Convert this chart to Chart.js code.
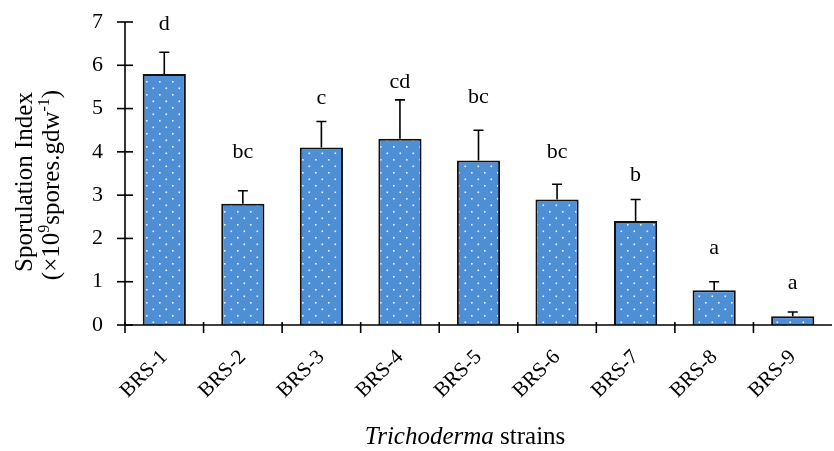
<!DOCTYPE html>
<html><head><meta charset="utf-8">
<script src="https://cdn.jsdelivr.net/npm/chart.js@4/dist/chart.umd.min.js"></script>
<style>html,body{margin:0;padding:0;background:#fff}#wrap{width:834px;height:451px;position:relative}</style>
</head><body><div id="wrap"><canvas id="c" width="834" height="451"></canvas></div>
<script>
const categories = ["BRS-1","BRS-2","BRS-3","BRS-4","BRS-5","BRS-6","BRS-7","BRS-8","BRS-9"];
const sporulation = [5.8, 2.8, 4.1, 4.3, 3.8, 2.9, 2.4, 0.8, 0.2];
const errors = [0.5, 0.3, 0.6, 0.9, 0.7, 0.35, 0.5, 0.2, 0.1];
const letters = ["d","bc","c","cd","bc","bc","b","a","a"];
const letterHeights = [6.95, 4.0, 5.25, 5.6, 5.27, 4.0, 3.45, 1.78, 0.97];
const yTicks = [0,1,2,3,4,5,6,7];

const SERIF = "'Liberation Serif','Times New Roman',serif";

function makePattern(){
  const p = document.createElement('canvas');
  p.width = 13; p.height = 13;
  const g = p.getContext('2d');
  g.fillStyle = '#4E8ED5';
  g.fillRect(0,0,13,13);
  g.fillStyle = 'rgba(255,255,255,0.9)';
  g.fillRect(3,3,1.6,1.6);
  g.fillRect(9.5,9.5,1.6,1.6);
  return g.createPattern(p,'repeat');
}

const decor = {
  id:'decor',
  afterDatasetsDraw(chart){
    const ctx = chart.ctx, x = chart.scales.x, y = chart.scales.y, ca = chart.chartArea;
    ctx.save();
    ctx.strokeStyle = '#000'; ctx.lineWidth = 1.6; ctx.fillStyle = '#000';
    sporulation.forEach((v,i)=>{
      const px = x.getPixelForValue(i);
      const y0 = y.getPixelForValue(v), y1 = y.getPixelForValue(v+errors[i]);
      ctx.beginPath(); ctx.moveTo(px,y0); ctx.lineTo(px,y1);
      ctx.moveTo(px-5,y1); ctx.lineTo(px+5,y1); ctx.stroke();
    });
    ctx.beginPath();
    ctx.moveTo(ca.left, y.getPixelForValue(7)); ctx.lineTo(ca.left, y.getPixelForValue(0));
    ctx.moveTo(ca.left, y.getPixelForValue(0)); ctx.lineTo(ca.right, y.getPixelForValue(0));
    ctx.stroke();
    yTicks.forEach(t=>{
      const py = y.getPixelForValue(t);
      ctx.beginPath(); ctx.moveTo(ca.left-8,py); ctx.lineTo(ca.left+8,py); ctx.stroke();
    });
    const base = y.getPixelForValue(0);
    const step = x.getPixelForValue(1)-x.getPixelForValue(0);
    for(let i=0;i<categories.length;i++){
      const px = x.getPixelForValue(i) - step/2;
      ctx.beginPath(); ctx.moveTo(px,base-3); ctx.lineTo(px,base+8); ctx.stroke();
    }
    ctx.font = '22px '+SERIF; ctx.textAlign='center'; ctx.textBaseline='middle';
    letters.forEach((l,i)=>{
      ctx.fillText(l, x.getPixelForValue(i), y.getPixelForValue(letterHeights[i]));
    });
    ctx.textBaseline='alphabetic'; ctx.textAlign='left';
    const t1='Trichoderma', t2=' strains';
    ctx.font='italic 25px '+SERIF; const w1=ctx.measureText(t1).width;
    ctx.font='25px '+SERIF; const w2=ctx.measureText(t2).width;
    let sx = 465 - (w1+w2)/2;
    ctx.font='italic 25px '+SERIF; ctx.fillText(t1,sx,444);
    ctx.font='25px '+SERIF; ctx.fillText(t2,sx+w1,444);
    ctx.save(); ctx.translate(32,182); ctx.rotate(-Math.PI/2);
    ctx.font='25px '+SERIF; ctx.textAlign='center'; ctx.fillText('Sporulation Index',0,0);
    ctx.restore();
    ctx.save(); ctx.translate(59,185); ctx.rotate(-Math.PI/2);
    const parts=[['(×10',25,0],['9',16,-10],['spores.gdw',25,0],['-1',16,-10],[')',25,0]];
    let tw=0; parts.forEach(p=>{ctx.font=p[1]+'px '+SERIF; tw+=ctx.measureText(p[0]).width;});
    let cx=-tw/2; ctx.textAlign='left';
    parts.forEach(p=>{ctx.font=p[1]+'px '+SERIF; ctx.fillText(p[0],cx,p[2]); cx+=ctx.measureText(p[0]).width;});
    ctx.restore();
    ctx.restore();
  }
};

new Chart(document.getElementById('c'), {
  type:'bar',
  data:{ labels: categories, datasets:[{ data: sporulation, backgroundColor: makePattern(), borderColor:'#111', borderWidth:2, categoryPercentage:1, barPercentage:0.55 }]},
  options:{
    responsive:false, animation:false,
    layout:{ padding:{ top:22, right:2, left:0, bottom:0 } },
    plugins:{ legend:{display:false}, tooltip:{enabled:false} },
    scales:{
      x:{ grid:{display:false}, border:{display:false},
          ticks:{ color:'#000', font:{family:SERIF, size:21}, maxRotation:45, minRotation:45, padding:12 },
          afterFit(s){ s.height = 126; s.paddingLeft = 0; s.paddingRight = 0; } },
      y:{ min:0, max:7, grid:{display:false}, border:{display:false},
          afterBuildTicks(s){ s.ticks = yTicks.map(v=>({value:v})); },
          ticks:{ color:'#000', font:{family:SERIF, size:22}, padding:14 },
          afterFit(s){ s.width = 125; s.paddingTop = 0; s.paddingBottom = 0; } }
    }
  },
  plugins:[decor]
});
</script></body></html>
